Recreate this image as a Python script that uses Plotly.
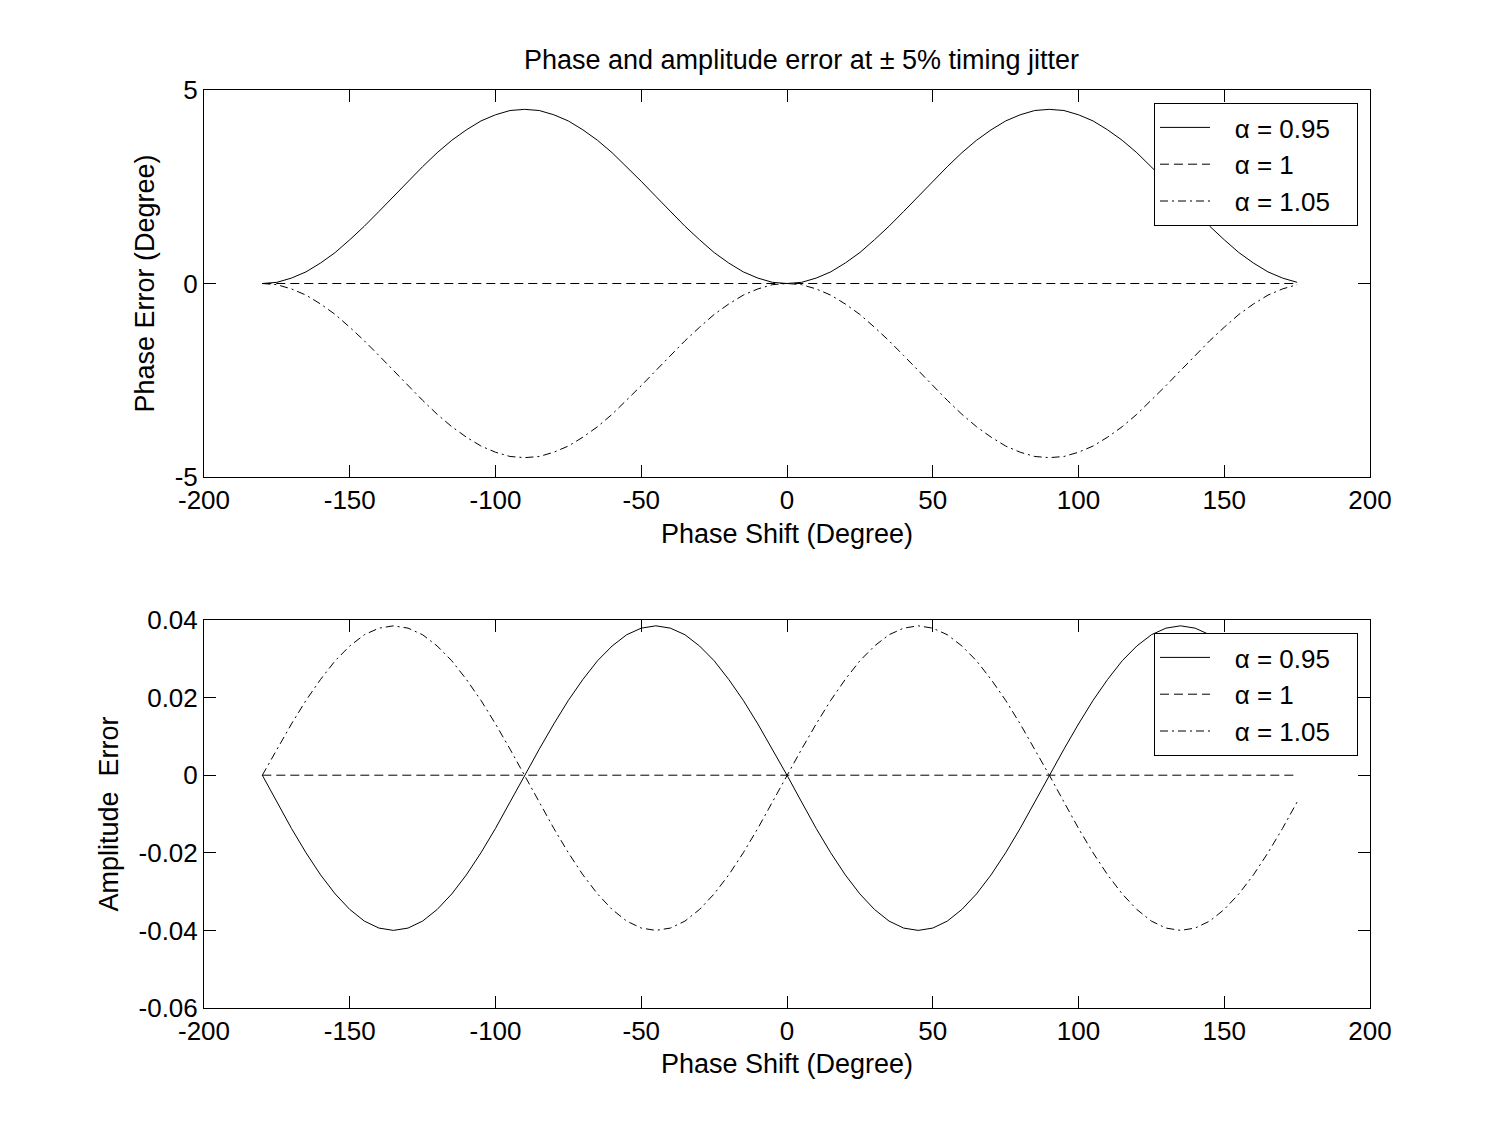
import plotly.graph_objects as go

# ---------------- data ----------------
phase_shift = list(range(-180, 180, 5))  # -180 ... 175 degrees

phase_err_095 = [0, 0.03, 0.14, 0.30, 0.53, 0.80, 1.13, 1.48, 1.86, 2.25, 2.64, 3.02, 3.38, 3.70, 3.97, 4.20, 4.36, 4.47,
                 4.50, 4.47, 4.36, 4.20, 3.97, 3.70, 3.38, 3.02, 2.64, 2.25, 1.86, 1.48, 1.13, 0.80, 0.53, 0.30, 0.14, 0.03,
                 0, 0.03, 0.14, 0.30, 0.53, 0.80, 1.13, 1.48, 1.86, 2.25, 2.64, 3.02, 3.38, 3.70, 3.97, 4.20, 4.36, 4.47,
                 4.50, 4.47, 4.36, 4.20, 3.97, 3.70, 3.38, 3.02, 2.64, 2.25, 1.86, 1.48, 1.13, 0.80, 0.53, 0.30, 0.14, 0.03]
phase_err_100 = [0] * 72
phase_err_105 = [0, -0.03, -0.14, -0.30, -0.53, -0.80, -1.13, -1.48, -1.86, -2.25, -2.64, -3.02, -3.38, -3.70, -3.97, -4.20, -4.36, -4.47,
                 -4.50, -4.47, -4.36, -4.20, -3.97, -3.70, -3.38, -3.02, -2.64, -2.25, -1.86, -1.48, -1.13, -0.80, -0.53, -0.30, -0.14, -0.03,
                 0, -0.03, -0.14, -0.30, -0.53, -0.80, -1.13, -1.48, -1.86, -2.25, -2.64, -3.02, -3.38, -3.70, -3.97, -4.20, -4.36, -4.47,
                 -4.50, -4.47, -4.36, -4.20, -3.97, -3.70, -3.38, -3.02, -2.64, -2.25, -1.86, -1.48, -1.13, -0.80, -0.53, -0.30, -0.14, -0.03]

amp_err_095 = [0, -0.0069, -0.0137, -0.0200, -0.0257, -0.0306, -0.0346, -0.0376, -0.0394,
               -0.0400, -0.0394, -0.0376, -0.0346, -0.0306, -0.0257, -0.0200, -0.0137, -0.0069,
               0, 0.0067, 0.0132, 0.0193, 0.0247, 0.0295, 0.0333, 0.0362, 0.0379,
               0.0385, 0.0379, 0.0362, 0.0333, 0.0295, 0.0247, 0.0193, 0.0132, 0.0067,
               0, -0.0069, -0.0137, -0.0200, -0.0257, -0.0306, -0.0346, -0.0376, -0.0394,
               -0.0400, -0.0394, -0.0376, -0.0346, -0.0306, -0.0257, -0.0200, -0.0137, -0.0069,
               0, 0.0067, 0.0132, 0.0193, 0.0247, 0.0295, 0.0333, 0.0362, 0.0379,
               0.0385, 0.0379, 0.0362, 0.0333, 0.0295, 0.0247, 0.0193, 0.0132, 0.0067]
amp_err_100 = [0] * 72
amp_err_105 = [0, 0.0067, 0.0132, 0.0193, 0.0247, 0.0295, 0.0333, 0.0362, 0.0379,
               0.0385, 0.0379, 0.0362, 0.0333, 0.0295, 0.0247, 0.0193, 0.0132, 0.0067,
               0, -0.0069, -0.0137, -0.0200, -0.0257, -0.0306, -0.0346, -0.0376, -0.0394,
               -0.0400, -0.0394, -0.0376, -0.0346, -0.0306, -0.0257, -0.0200, -0.0137, -0.0069,
               0, 0.0067, 0.0132, 0.0193, 0.0247, 0.0295, 0.0333, 0.0362, 0.0379,
               0.0385, 0.0379, 0.0362, 0.0333, 0.0295, 0.0247, 0.0193, 0.0132, 0.0067,
               0, -0.0069, -0.0137, -0.0200, -0.0257, -0.0306, -0.0346, -0.0376, -0.0394,
               -0.0400, -0.0394, -0.0376, -0.0346, -0.0306, -0.0257, -0.0200, -0.0137, -0.0069]

series_names = ["α = 0.95", "α = 1", "α = 1.05"]
x_ticks = [-200, -150, -100, -50, 0, 50, 100, 150, 200]
x_ticktext = ["-200", "-150", "-100", "-50", "0", "50", "100", "150", "200"]
y1_ticks = [-5, 0, 5]
y1_ticktext = ["-5", "0", "5"]
y2_ticks = [-0.06, -0.04, -0.02, 0, 0.02, 0.04]
y2_ticktext = ["-0.06", "-0.04", "-0.02", "0", "0.02", "0.04"]

title_text = "Phase and amplitude error at ± 5% timing jitter"

# ---------------- figure ----------------
OFF = 8  # page body margin
W, H = 1490, 1118
ML, MR, MT, MB = 204 - OFF, 128, 90 - OFF, 118
PW, PH = W - ML - MR, H - MT - MB


def px_x(p):  # reference-screen pixel -> paper
    return (p - OFF - ML) / PW


def px_y(p):
    return (H - MB - (p - OFF)) / PH


FONT = "Liberation Sans, Arial, sans-serif"
TICK_SIZE = 26
TITLE_SIZE = 27
LEG_SIZE = 26
dashes = ["solid", "9px,5px", "8px,4px,2px,4px"]
NB = "\u00a0"


def legend_label(name):
    return NB + NB + "\u2009" + name + NB + NB + NB


fig = go.Figure()
for vals, name, d in zip([phase_err_095, phase_err_100, phase_err_105], series_names, dashes):
    fig.add_trace(go.Scatter(x=phase_shift, y=vals, mode="lines", name=legend_label(name),
                             line=dict(color="black", width=1, dash=d),
                             xaxis="x", yaxis="y", legend="legend"))
for vals, name, d in zip([amp_err_095, amp_err_100, amp_err_105], series_names, dashes):
    fig.add_trace(go.Scatter(x=phase_shift, y=vals, mode="lines", name=legend_label(name),
                             line=dict(color="black", width=1, dash=d),
                             xaxis="x2", yaxis="y2", legend="legend2"))

axis_common = dict(showgrid=False, zeroline=False, showline=True, linecolor="black", linewidth=1,
                   mirror="ticks", ticks="inside", ticklen=12, tickcolor="black", tickwidth=1,
                   tickfont=dict(family=FONT, size=TICK_SIZE, color="black"))

top_domain = [px_y(477), 1.0]
bot_domain = [0.0, px_y(620)]

legend_common = dict(xanchor="right", yanchor="top", bgcolor="white", bordercolor="black", borderwidth=1,
                     font=dict(family=FONT, size=LEG_SIZE, color="black"), tracegroupgap=0, itemwidth=50)

fig.update_layout(
    width=W, height=H,
    margin=dict(l=ML, r=MR, t=MT, b=MB),
    paper_bgcolor="white", plot_bgcolor="white",
    font=dict(family=FONT, size=TICK_SIZE, color="black"),
    xaxis=dict(domain=[0, 1], anchor="y", range=[-200, 200], tickvals=x_ticks, ticktext=x_ticktext,
               title=dict(text="Phase Shift (Degree)", font=dict(size=TITLE_SIZE), standoff=9), **axis_common),
    yaxis=dict(domain=top_domain, anchor="x", range=[-5, 5], tickvals=y1_ticks, ticktext=y1_ticktext,
               title=dict(text="Phase Error (Degree)", font=dict(size=TITLE_SIZE), standoff=12), **axis_common),
    xaxis2=dict(domain=[0, 1], anchor="y2", range=[-200, 200], tickvals=x_ticks, ticktext=x_ticktext,
                title=dict(text="Phase Shift (Degree)", font=dict(size=TITLE_SIZE), standoff=8), **axis_common),
    yaxis2=dict(domain=bot_domain, anchor="x2", range=[-0.06, 0.04], tickvals=y2_ticks, ticktext=y2_ticktext,
                title=dict(text="Amplitude  Error", font=dict(size=TITLE_SIZE), standoff=12), **axis_common),
    legend=dict(x=px_x(1358), y=px_y(103), **legend_common),
    legend2=dict(x=px_x(1358), y=px_y(633), **legend_common),
    showlegend=True,
    annotations=[dict(text=title_text, x=px_x(801), y=px_y(60), xref="paper", yref="paper",
                      xanchor="center", yanchor="middle", showarrow=False,
                      font=dict(family=FONT, size=TITLE_SIZE, color="black"))],
)

fig.write_html("out.html")
